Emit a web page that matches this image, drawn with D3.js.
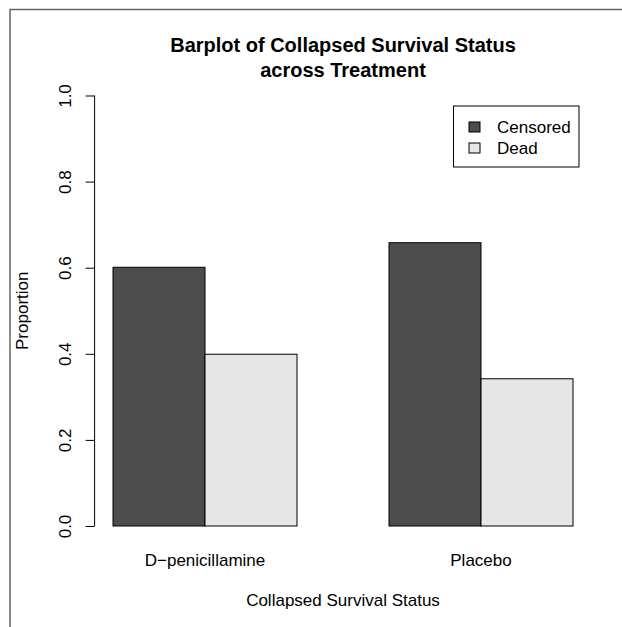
<!DOCTYPE html>
<html>
<head>
<meta charset="utf-8">
<script src="https://cdn.jsdelivr.net/npm/d3@7"></script>
<style>
  body { margin: 0; background: #fff; }
  text { font-family: "Liberation Sans", Arial, sans-serif; fill: #000; }
</style>
</head>
<body>
<div id="chart"></div>
<script>
// data
const groups = ["D\u2212penicillamine", "Placebo"];
const statuses = ["Censored", "Dead"];
const censored = [0.601, 0.658];
const dead = [0.399, 0.342];
const yTicks = [0, 0.2, 0.4, 0.6, 0.8, 1.0];
const fills = ["#4d4d4d", "#e6e6e6"];

const W = 622, H = 627;

const svg = d3.select("#chart")
  .append("svg")
  .attr("width", W)
  .attr("height", H);

// frame around the picture (top and left edges visible)
svg.append("path")
  .attr("d", "M10,627 L10,9.5 L622,9.5")
  .attr("fill", "none")
  .attr("stroke", "#666")
  .attr("stroke-width", 1.5);

// barplot x coordinates like R: bar width 1, space 1 before each group
const x = d3.scaleLinear()
  .domain([0.8, 6.2])
  .range([94.6, 591.4]);

const y = d3.scaleLinear()
  .domain([0, 1])
  .range([526, 95.5]);

const bars = [];
groups.forEach((g, i) => {
  const start = 1 + i * 3;
  [censored[i], dead[i]].forEach((v, j) => {
    bars.push({group: g, status: statuses[j], value: v, x0: start + j, x1: start + j + 1, fill: fills[j]});
  });
});

svg.append("g")
  .selectAll("rect")
  .data(bars)
  .join("rect")
  .attr("x", d => x(d.x0))
  .attr("y", d => y(d.value))
  .attr("width", d => x(d.x1) - x(d.x0))
  .attr("height", d => y(0) - y(d.value))
  .attr("fill", d => d.fill)
  .attr("stroke", "#000")
  .attr("stroke-width", 1);

// y axis, R style with rotated labels
const yAxis = svg.append("g")
  .attr("transform", `translate(${x(0.8)},0)`)
  .call(d3.axisLeft(y).tickValues(yTicks).tickSize(9).tickFormat(d3.format(".1f")));
yAxis.select(".domain").attr("d", `M0,${y(0)}V${y(1)}`).attr("stroke", "#000");
yAxis.selectAll(".tick line").attr("stroke", "#000");
yAxis.selectAll(".tick text")
  .attr("x", null).attr("dy", null)
  .attr("transform", "translate(-24,0) rotate(-90)")
  .attr("text-anchor", "middle")
  .style("font-size", "17px");
yAxis.attr("font-family", null).attr("font-size", null);

// group labels under the bars
svg.append("g")
  .selectAll("text")
  .data(groups)
  .join("text")
  .attr("x", (d, i) => x(2 + i * 3))
  .attr("y", 566)
  .attr("text-anchor", "middle")
  .style("font-size", "17px")
  .text(d => d);

// title
const title = svg.append("text")
  .attr("text-anchor", "middle")
  .style("font-size", "20px")
  .style("font-weight", "bold");
title.append("tspan").attr("x", 343).attr("y", 52).text("Barplot of Collapsed Survival Status");
title.append("tspan").attr("x", 343).attr("y", 77).text("across Treatment");

// axis titles
svg.append("text")
  .attr("x", 343)
  .attr("y", 606)
  .attr("text-anchor", "middle")
  .style("font-size", "17px")
  .text("Collapsed Survival Status");

svg.append("text")
  .attr("transform", `translate(28,${(y(0) + y(1)) / 2}) rotate(-90)`)
  .attr("text-anchor", "middle")
  .style("font-size", "17px")
  .text("Proportion");

// legend
const legend = svg.append("g");
legend.append("rect")
  .attr("x", 453.5).attr("y", 106)
  .attr("width", 125.5).attr("height", 61)
  .attr("fill", "#fff").attr("stroke", "#000");
statuses.forEach((s, i) => {
  legend.append("rect")
    .attr("x", 469).attr("y", 122 + i * 21)
    .attr("width", 11).attr("height", 10)
    .attr("fill", fills[i]).attr("stroke", "#000");
  legend.append("text")
    .attr("x", 497).attr("y", 133 + i * 20.5)
    .style("font-size", "17px")
    .text(s);
});
</script>
</body>
</html>
